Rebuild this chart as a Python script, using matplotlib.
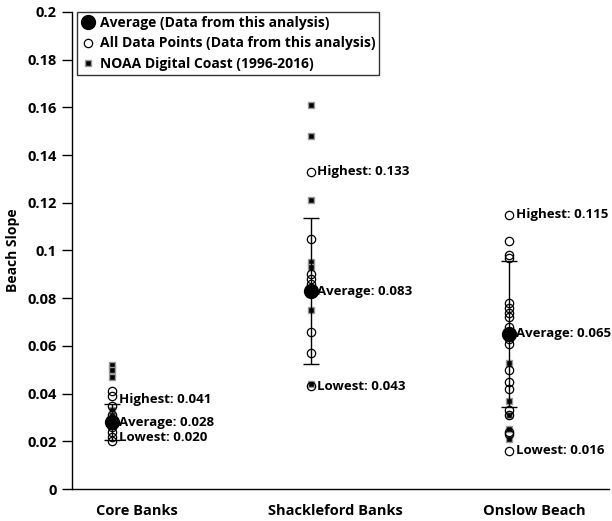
import matplotlib.pyplot as plt
from matplotlib.ticker import FuncFormatter, MultipleLocator
from matplotlib.lines import Line2D

plt.rcParams['font.family'] = ['Open Sans', 'DejaVu Sans']
plt.rcParams['font.weight'] = 'bold'

sites = ['Core Banks', 'Shackleford Banks', 'Onslow Beach']

# slopes measured in this analysis
core_pts = [0.041, 0.039, 0.035, 0.031, 0.029, 0.027, 0.026, 0.024, 0.022, 0.020]
shack_pts = [0.133, 0.105, 0.090, 0.088, 0.086, 0.084, 0.066, 0.057, 0.043]
onslow_pts = [0.115, 0.104, 0.098, 0.097, 0.078, 0.076, 0.074, 0.072, 0.068, 0.066,
              0.063, 0.061, 0.050, 0.045, 0.042, 0.033, 0.031, 0.024, 0.023, 0.016]

# NOAA Digital Coast slopes (1996-2016)
core_noaa = [0.052, 0.050, 0.047, 0.033, 0.031, 0.029]
shack_noaa = [0.161, 0.148, 0.121, 0.095, 0.093, 0.082, 0.075, 0.044]
onslow_noaa = [0.053, 0.037, 0.031, 0.025, 0.021]

averages = [0.028, 0.083, 0.065]
highest = [0.041, 0.133, 0.115]
lowest = [0.020, 0.043, 0.016]
std_dev = [0.0075, 0.0305, 0.0305]

points = [core_pts, shack_pts, onslow_pts]
noaa = [core_noaa, shack_noaa, onslow_noaa]
xpos = [1, 2, 3]

fig = plt.figure(figsize=(6.12, 5.21), dpi=100)
ax = fig.add_axes([0.1176, 0.0614, 0.877, 0.9156])

for x, pts, nz in zip(xpos, points, noaa):
    ax.plot([x] * len(nz), nz, 's', color='black', markersize=5,
            markeredgecolor='#9a9a9a', markeredgewidth=1.0, zorder=2)
    ax.plot([x] * len(pts), pts, 'o', fillstyle='none', color='black',
            markersize=6, markeredgewidth=0.9, zorder=3)

ax.errorbar(xpos, averages, yerr=std_dev, fmt='none', ecolor='black',
            elinewidth=1.0, capsize=6, capthick=1.0, zorder=4)
ax.plot(xpos, averages, 'o', color='black', markersize=10, zorder=5)

# small nudges keep the Core Banks labels apart
hi_shift = [-6, 0, 0]
lo_shift = [3, 0, 0]
for i, x in enumerate(xpos):
    ax.annotate('Highest: %.3f' % highest[i], (x, highest[i]), xytext=(5, hi_shift[i]),
                textcoords='offset points', va='center', ha='left', fontsize=9.5,
                fontweight='bold')
    ax.annotate('Average: %.3f' % averages[i], (x, averages[i]), xytext=(5, 0),
                textcoords='offset points', va='center', ha='left', fontsize=9.5,
                fontweight='bold')
    ax.annotate('Lowest: %.3f' % lowest[i], (x, lowest[i]), xytext=(5, lo_shift[i]),
                textcoords='offset points', va='center', ha='left', fontsize=9.5,
                fontweight='bold')

ax.set_xlim(0.8, 3.5)
ax.set_ylim(0, 0.2)
ax.yaxis.set_major_locator(MultipleLocator(0.02))
ax.yaxis.set_major_formatter(FuncFormatter(lambda v, p: '%g' % round(v, 3)))
# category names sit a little right of their columns
ax.set_xticks([x + 0.125 for x in xpos])
ax.set_xticklabels(sites, fontsize=10.5, fontweight='bold')
ax.tick_params(axis='x', length=0, pad=11)
ax.tick_params(axis='y', direction='out', length=7, width=1.0, labelsize=10.5, pad=4)
for lab in ax.get_yticklabels():
    lab.set_fontweight('bold')
ax.spines['top'].set_visible(False)
ax.spines['right'].set_visible(False)
ax.spines['left'].set_linewidth(1.0)
ax.spines['bottom'].set_linewidth(1.0)
ax.set_ylabel('Beach Slope', fontsize=10, fontweight='bold', labelpad=5)

handles = [
    Line2D([], [], marker='o', color='black', linestyle='none', markersize=10),
    Line2D([], [], marker='o', color='black', fillstyle='none', linestyle='none',
           markersize=6, markeredgewidth=0.9),
    Line2D([], [], marker='s', color='black', linestyle='none', markersize=5,
           markeredgecolor='#9a9a9a'),
]
labels = ['Average (Data from this analysis)',
          'All Data Points (Data from this analysis)',
          'NOAA Digital Coast (1996-2016)']
leg = ax.legend(handles, labels, loc='upper left', bbox_to_anchor=(0.01, 1.0),
                frameon=True, fancybox=False, edgecolor='black',
                prop={'weight': 'bold', 'size': 10}, handletextpad=0.3,
                handlelength=1.0, borderpad=0.3, labelspacing=0.45, borderaxespad=0)
leg.get_frame().set_linewidth(1.0)

fig.savefig('out.png', dpi=100)
